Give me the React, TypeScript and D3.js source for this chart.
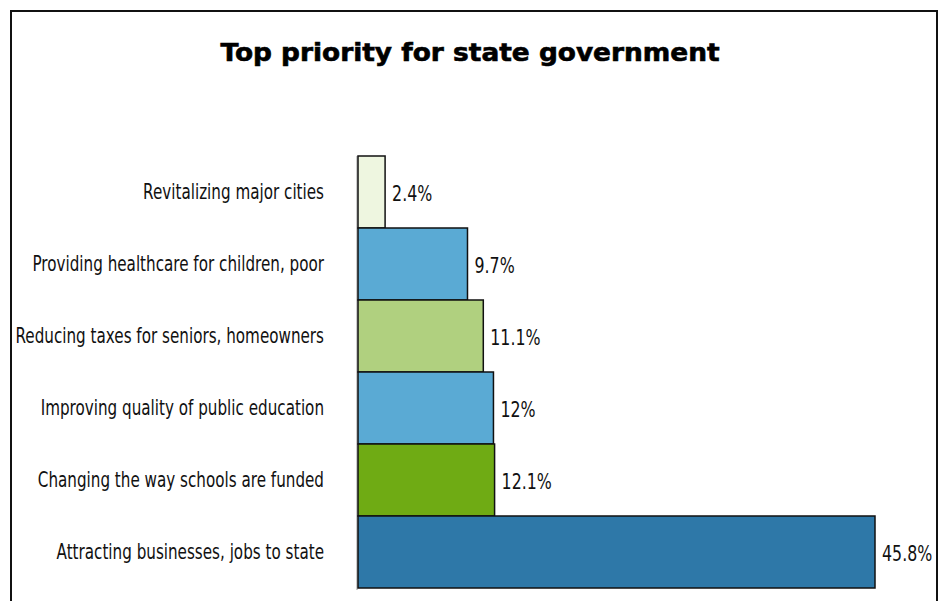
import React from "react";
import * as d3 from "d3";

const categories = [
  "Revitalizing major cities",
  "Providing healthcare for children, poor",
  "Reducing taxes for seniors, homeowners",
  "Improving quality of public education",
  "Changing the way schools are funded",
  "Attracting businesses, jobs to state",
];
const values = [2.4, 9.7, 11.1, 12, 12.1, 45.8];
const valueLabels = ["2.4%", "9.7%", "11.1%", "12%", "12.1%", "45.8%"];
const colors = ["#eef6e0", "#5aaad4", "#b0d07f", "#5aaad4", "#6fab14", "#2e78a8"];
const title = "Top priority for state government";

const W = 943;
const H = 601;
const X0 = 358;
const X1 = 875;
const Y0 = 156;
const Y1 = 588;

export default function App() {
  const x = d3.scaleLinear().domain([0, 45.8]).range([X0, X1]);
  const y = d3.scaleBand<string>().domain(categories).range([Y0, Y1]).padding(0);
  const labelFont = "'DejaVu Sans', sans-serif";
  return (
    <svg
      width={W}
      height={H}
      style={{ position: "absolute", left: 0, top: 0, background: "#fff" }}
    >
      <rect x={11} y={11} width={926} height={620} fill="#fff" stroke="#111" strokeWidth={2} />
      <text
        transform="translate(470,61) scale(1.1,1)"
        textAnchor="middle"
        fontFamily="'DejaVu Sans', sans-serif"
        fontWeight="bold"
        fontSize={24}
        fill="#000"
        stroke="#000"
        strokeWidth={0.6}
      >
        {title}
      </text>
      <line x1={X0 - 1} x2={X0 - 1} y1={Y0} y2={Y1 + 2} stroke="#999" strokeWidth={1} />
      {categories.map((c, i) => {
        const cy = y(c)! + y.bandwidth() / 2;
        return (
          <g key={c}>
            <rect
              x={x(0)}
              y={y(c)!}
              width={x(values[i]) - x(0)}
              height={y.bandwidth()}
              fill={colors[i]}
              stroke="#111"
              strokeWidth={1.5}
            />
            <text
              transform={`translate(324,${cy + 7}) scale(0.69,1)`}
              textAnchor="end"
              fontFamily={labelFont}
              fontSize={22}
              fill="#111"
            >
              {c}
            </text>
            <text
              transform={`translate(${x(values[i]) + 7},${cy + 9}) scale(0.72,1)`}
              textAnchor="start"
              fontFamily={labelFont}
              fontSize={22}
              fill="#111"
            >
              {valueLabels[i]}
            </text>
          </g>
        );
      })}
    </svg>
  );
}
